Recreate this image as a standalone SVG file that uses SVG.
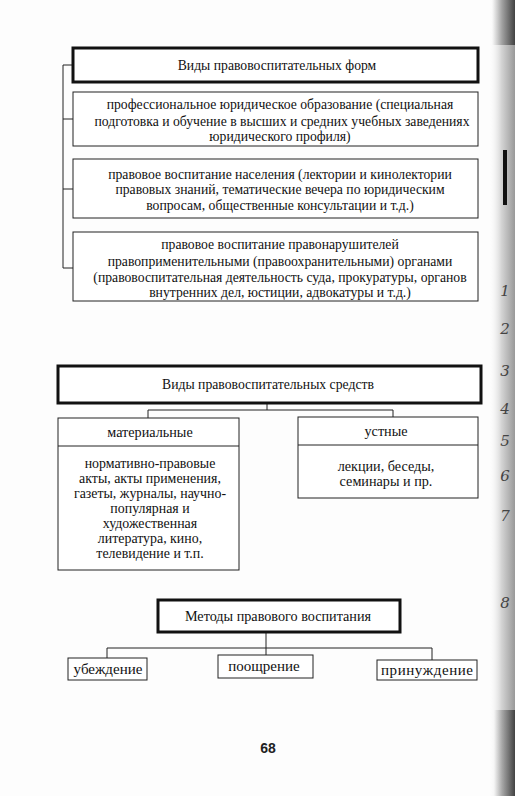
<svg xmlns="http://www.w3.org/2000/svg" width="515" height="796" viewBox="0 0 515 796">
<defs>
<style>
.t{font-family:"Liberation Serif","Times New Roman",serif;font-size:13.7px;fill:#111;text-anchor:middle}
.b{font-size:14.2px}
.c{font-size:13.9px}
.m{font-size:15px}
.box{fill:#fff;stroke:#222;stroke-width:1}
.tbox{fill:#fff;stroke:#111;stroke-width:3}
.ln{fill:none;stroke:#222;stroke-width:1}
.hw{font-family:"DejaVu Serif",serif;font-style:italic;font-size:15px;fill:#444;text-anchor:middle}
</style>
<linearGradient id="edge" x1="0" y1="0" x2="1" y2="0">
<stop offset="0" stop-color="#fff" stop-opacity="0"/>
<stop offset="0.5" stop-color="#d4d4d4"/>
<stop offset="1" stop-color="#999"/>
</linearGradient>
<linearGradient id="dark" x1="0" y1="0" x2="1" y2="0">
<stop offset="0" stop-color="#666" stop-opacity="0"/>
<stop offset="0.6" stop-color="#555" stop-opacity="0.55"/>
<stop offset="1" stop-color="#333" stop-opacity="0.85"/>
</linearGradient>
</defs>
<rect width="515" height="796" fill="#fdfdfd"/>
<rect x="488" y="0" width="27" height="796" fill="url(#edge)"/>
<rect x="492" y="0" width="23" height="45" fill="url(#dark)"/>
<rect x="494" y="710" width="21" height="86" fill="url(#dark)"/>
<rect x="503" y="150" width="4" height="55" fill="#111"/>
<g id="connectors">
<path class="ln" d="M73 65 H63 V268 H73 M63 119 H73 M63 189 H73"/>
<path class="ln" d="M267 403 V410 M148 418 V410 H393 V418"/>
<path class="ln" d="M266 632 V648 M107 658 V648 H432 V660 M266 648 V655"/>
</g>
<g id="forms-title"><rect class="tbox" x="73" y="48" width="405" height="34"/><text class="t" x="277" y="70">Виды правовоспитательных форм</text></g>
<g id="form1"><rect class="box" x="73" y="92" width="405" height="54"/>
<text class="t" x="280" y="109">профессиональное юридическое образование (специальная</text>
<text class="t" x="282" y="126">подготовка и обучение в высших и средних учебных заведениях</text>
<text class="t" x="280" y="141">юридического профиля)</text></g>
<g id="form2"><rect class="box" x="73" y="159" width="405" height="59"/>
<text class="t" x="280" y="179">правовое воспитание населения (лектории и кинолектории</text>
<text class="t" x="280" y="194">правовых знаний, тематические вечера по юридическим</text>
<text class="t" x="280" y="210">вопросам, общественные консультации и т.д.)</text></g>
<g id="form3"><rect class="box" x="73" y="232" width="405" height="69"/>
<text class="t" x="280" y="249">правовое воспитание правонарушителей</text>
<text class="t" x="280" y="266">правоприменительными (правоохранительными) органами</text>
<text class="t" x="280" y="282">(правовоспитательная деятельность суда, прокуратуры, органов</text>
<text class="t" x="280" y="297">внутренних дел, юстиции, адвокатуры и т.д.)</text></g>
<g id="means-title"><rect class="tbox" x="58" y="366" width="423" height="37"/><text class="t" x="268" y="389">Виды правовоспитательных средств</text></g>
<g id="material"><rect class="box" x="58" y="418" width="181" height="152"/><path class="ln" d="M58 446 H239"/>
<text class="t b" x="150" y="437">материальные</text>
<text class="t c" x="150" y="468">нормативно-правовые</text>
<text class="t c" x="150" y="483">акты, акты применения,</text>
<text class="t c" x="150" y="498">газеты, журналы, научно-</text>
<text class="t c" x="150" y="513">популярная и</text>
<text class="t c" x="150" y="528">художественная</text>
<text class="t c" x="150" y="543">литература, кино,</text>
<text class="t c" x="150" y="558">телевидение и т.п.</text></g>
<g id="oral"><rect class="box" x="298" y="417" width="180" height="81"/><path class="ln" d="M298 445 H478"/>
<text class="t b" x="386" y="436">устные</text>
<text class="t b" x="386" y="471">лекции, беседы,</text>
<text class="t b" x="386" y="486">семинары и пр.</text></g>
<g id="methods-title"><rect class="tbox" x="158" y="600" width="242" height="32"/><text class="t b" x="278" y="621">Методы правового воспитания</text></g>
<g id="m1"><rect class="box" x="68" y="658" width="79" height="22"/><text class="t m" x="108" y="674">убеждение</text></g>
<g id="m2"><rect class="box" x="218" y="655" width="95" height="23"/><text class="t m" x="264" y="671">поощрение</text></g>
<g id="m3"><rect class="box" x="377" y="660" width="100" height="20"/><text class="t m" x="427" y="675" textLength="92" lengthAdjust="spacing">принуждение</text></g>
<text x="268" y="753" style="font-family:'Liberation Sans',Arial,sans-serif;font-size:14px;font-weight:bold;fill:#222;text-anchor:middle">68</text>
<g id="handwriting">
<text class="hw" x="505" y="296">1</text>
<text class="hw" x="505" y="334">2</text>
<text class="hw" x="505" y="376">3</text>
<text class="hw" x="505" y="414">4</text>
<text class="hw" x="505" y="446">5</text>
<text class="hw" x="505" y="481">6</text>
<text class="hw" x="505" y="521">7</text>
<text class="hw" x="505" y="608">8</text>
</g>
</svg>
